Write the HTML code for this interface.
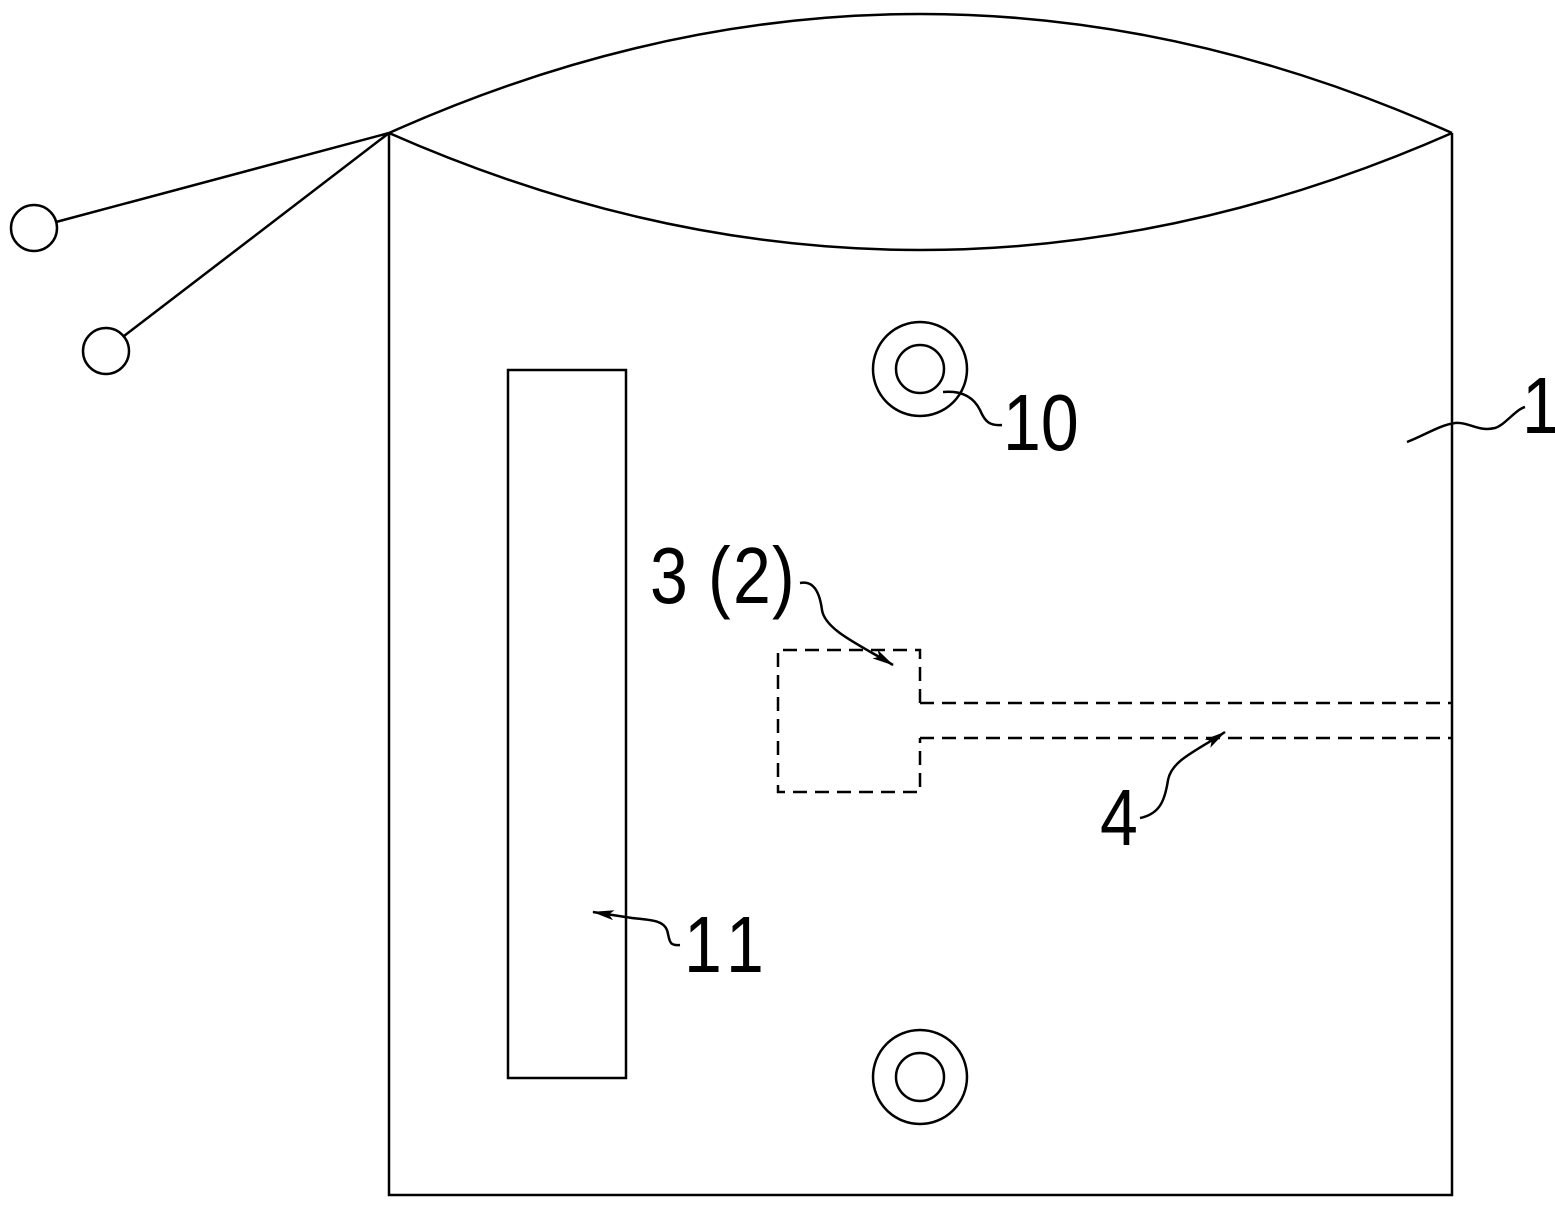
<!DOCTYPE html>
<html><head><meta charset="utf-8"><style>html,body{margin:0;padding:0;background:#fff}svg{display:block}</style></head>
<body>
<svg width="1555" height="1211" viewBox="0 0 1555 1211" xmlns="http://www.w3.org/2000/svg">
<defs><marker id="a" markerWidth="22" markerHeight="10" refX="21" refY="5" orient="auto" markerUnits="userSpaceOnUse"><path d="M0,0 L22,5 L0,10 L5,5 z" fill="#000"/></marker></defs>
<g fill="none" stroke="#000" stroke-width="2.5">
<path d="M389,133 L389,1195 L1452,1195 L1452,133"/>
<path d="M389,133 Q920,-105 1452,133"/>
<path d="M389,133 Q920,367 1452,133"/>
<line x1="389" y1="133" x2="56" y2="222"/>
<circle cx="34" cy="228" r="23"/>
<line x1="389" y1="133" x2="124" y2="336"/>
<circle cx="106" cy="351" r="23"/>
<rect x="508" y="370" width="118" height="708"/>
<circle cx="920" cy="369" r="47"/><circle cx="920" cy="369" r="24"/>
<circle cx="920" cy="1077" r="47"/><circle cx="920" cy="1077" r="24"/>
<g stroke-dasharray="14,8">
<path d="M920,703 L920,650 L778,650 L778,792 L920,792 L920,738"/>
<line x1="920" y1="703" x2="1452" y2="703"/>
<line x1="920" y1="738" x2="1452" y2="738"/>
</g>
<path d="M943,392 C965,390 975,400 980,410 C985,422 990,426 1002,425"/>
<path d="M1407,442 C1425,435 1440,425 1455,423 C1470,422 1478,432 1495,428 C1505,425 1515,410 1525,407"/>
<path d="M800,583 C815,580 820,595 822,610 C825,630 860,645 893,665" marker-end="url(#a)"/>
<path d="M1140,818 C1160,814 1165,800 1168,780 C1172,760 1195,752 1225,732" marker-end="url(#a)"/>
<path d="M680,945 C668,946 670,940 667,930 C663,920 650,920 632,918 L593,912" marker-end="url(#a)"/>
</g>
<g font-family="Liberation Sans, sans-serif" font-size="80" fill="#000">
<text transform="translate(1003,450) scale(0.85,1)">10</text>
<text transform="translate(1522,433) scale(0.85,1)">1</text>
<text transform="translate(650,603) scale(0.85,1)">3</text>
<text transform="translate(708,603) scale(0.85,1)">(</text>
<text transform="translate(733,603) scale(0.85,1)">2</text>
<text transform="translate(772,603) scale(0.85,1)">)</text>
<text transform="translate(1100,845) scale(0.85,1)">4</text>
<text transform="translate(684,972) scale(0.85,1)">1</text>
<text transform="translate(726,972) scale(0.85,1)">1</text>
</g>
</svg>
</body></html>
